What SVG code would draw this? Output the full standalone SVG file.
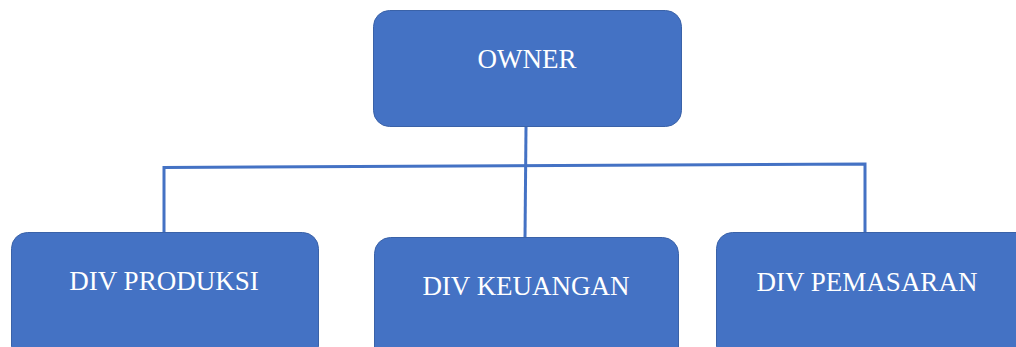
<svg xmlns="http://www.w3.org/2000/svg" width="1016" height="347" viewBox="0 0 1016 347">
<style>
.box{fill:#4472C4;stroke:#3A62A8;stroke-width:1}
.lbl{font-family:"Liberation Serif",serif;font-size:27px;fill:#FFFFFF;text-anchor:middle}
.conn{fill:none;stroke:#4472C4;stroke-width:3}
</style>
<rect width="1016" height="347" fill="#FFFFFF"/>
<g id="connectors">
<line class="conn" x1="526" y1="127" x2="525" y2="238"/>
<polyline class="conn" points="164,233 164,167.5 865,164 865,233"/>
</g>
<g id="owner">
<rect class="box" x="373.5" y="10.5" width="308" height="116" rx="16"/>
<text class="lbl" x="527" y="68">OWNER</text>
</g>
<g id="div-produksi">
<rect class="box" x="11.5" y="232.5" width="307" height="130" rx="16"/>
<text class="lbl" x="164" y="290">DIV PRODUKSI</text>
</g>
<g id="div-keuangan">
<rect class="box" x="374.5" y="237.5" width="304" height="130" rx="16"/>
<text class="lbl" x="526" y="295">DIV KEUANGAN</text>
</g>
<g id="div-pemasaran">
<rect class="box" x="716.5" y="232.5" width="320" height="130" rx="16"/>
<text class="lbl" x="867" y="291">DIV PEMASARAN</text>
</g>
</svg>
